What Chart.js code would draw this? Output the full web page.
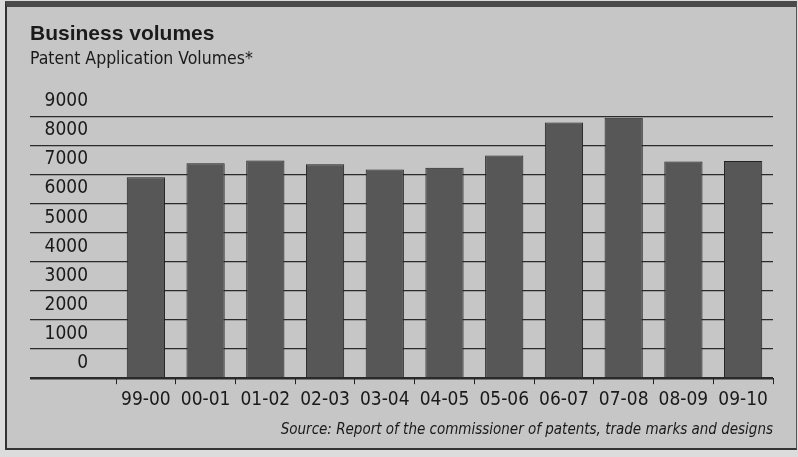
<!DOCTYPE html>
<html>
<head>
<meta charset="utf-8">
<script src="https://cdn.jsdelivr.net/npm/chart.js@4/dist/chart.umd.min.js"></script>
<style>
  html, body { margin: 0; padding: 0; background: #dcdcdc; }
  #frame {
    position: absolute; left: 5px; top: 1px; width: 789px; height: 441px;
    background: #c6c6c6;
    border-top: 6px solid #4a4a4a;
    border-left: 2px solid #333;
    border-bottom: 2px solid #333;
    border-right: 1px solid #555;
  }
  #wrap { position: absolute; left: 0; top: 0; width: 798px; height: 457px; }
</style>
</head>
<body>
<div id="frame"></div>
<div id="wrap"><canvas id="graph-volumes" width="798" height="457"></canvas></div>
<script>
// financial years shown on the x axis
const years = ['99-00', '00-01', '01-02', '02-03', '03-04', '04-05', '05-06', '06-07', '07-08', '08-09', '09-10'];
// patent applications per year
const applications = [6900, 7380, 7480, 7350, 7170, 7230, 7650, 8780, 8950, 7440, 7460];
const yTicks = [0, 1000, 2000, 3000, 4000, 5000, 6000, 7000, 8000, 9000];

const narrow = '"DejaVu Sans Condensed", "Liberation Sans Narrow", sans-serif';
const ink = '#1a1a1a';

const ctx = document.getElementById('graph-volumes');
const graph = new Chart(ctx, {
  type: 'bar',
  data: {
    labels: years,
    datasets: [{
      label: 'Patent applications',
      data: applications,
      backgroundColor: '#575757',
      borderColor: '#222',
      borderWidth: 1,
      categoryPercentage: 1,
      barPercentage: 0.64,
    }]
  },
  options: {
    responsive: false,
    animation: false,
    layout: { padding: { left: 30, right: 25, top: 0, bottom: 18 } },
    plugins: {
      legend: { display: false },
      tooltip: { enabled: false },
      title: {
        display: true,
        text: 'Business volumes',
        align: 'start',
        color: ink,
        font: { family: '"Liberation Sans", Arial, sans-serif', size: 21, weight: 'bold' },
        padding: { top: 22, bottom: 0 },
      },
      subtitle: {
        display: true,
        text: 'Patent Application Volumes*',
        align: 'start',
        color: ink,
        font: { family: narrow, size: 17.5 },
        padding: { top: 2, bottom: 46 },
      },
    },
    scales: {
      x: {
        grid: {
          drawOnChartArea: false,
          drawTicks: true,
          tickLength: 6,
          offset: true,
          color: '#222',
        },
        border: { display: false },
        ticks: { color: ink, font: { family: narrow, size: 19 }, padding: 4, maxRotation: 0, autoSkip: false },
        title: {
          display: true,
          text: 'Source: Report of the commissioner of patents, trade marks and designs',
          align: 'end',
          color: ink,
          font: { family: narrow, size: 15, style: 'italic' },
          padding: { top: 6, bottom: 0 },
        },
      },
      y: {
        min: 0,
        max: 9000,
        afterBuildTicks(scale) {
          scale.ticks = yTicks.map(v => ({ value: v }));
        },
        afterFit(scale) {
          scale.width = 86;
        },
        border: { display: false },
        grid: {
          color: '#2a2a2a',
          lineWidth: (c) => (c.tick && c.tick.value === 0 ? 2.5 : 1.2),
          drawTicks: true,
          tickLength: 86,
        },
        ticks: {
          color: ink,
          font: { family: narrow, size: 19 },
          padding: -58,
          labelOffset: -15,
          autoSkip: false,
          callback: (v) => String(v),
        },
      },
    },
  },
});
</script>
</body>
</html>
